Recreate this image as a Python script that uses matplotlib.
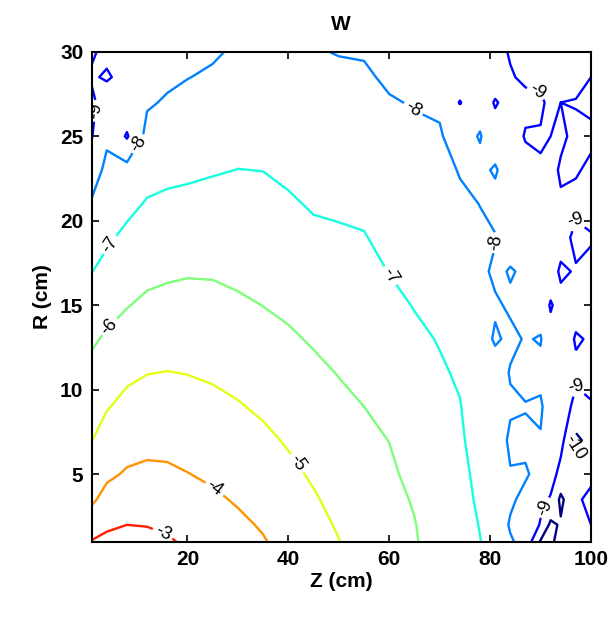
import numpy as np
import matplotlib
matplotlib.use("Agg")
import matplotlib.pyplot as plt

# ---- data (log10 field W on a grid) ----
z_nodes = [1, 4, 8, 12, 16, 20, 25, 30, 35, 40, 45, 50, 55, 60, 65, 70, 74, 78,
           81, 84, 87, 90, 92, 94, 97, 100]
r_nodes = [1, 2, 3.5, 5, 7, 9, 11, 13, 15, 17, 19, 21, 23, 25, 27, 28.5, 30]

# one list per Z column, values listed from R = 1 up to R = 30
w_columns = [
    [-2.95, -3.50, -4.15, -4.53, -5.02, -5.38, -5.75, -6.13, -6.57, -7.02, -7.45, -7.91, -8.44, -9.05, -9.20, -8.90, -9.10],
    [-2.78, -3.15, -3.70, -4.16, -4.61, -5.06, -5.47, -5.88, -6.30, -6.74, -7.13, -7.46, -7.79, -8.15, -8.50, -9.10, -8.80],
    [-2.70, -3.00, -3.45, -3.91, -4.35, -4.76, -5.17, -5.61, -6.04, -6.42, -6.81, -7.22, -7.67, -9.10, -8.30, -8.70, -8.80],
    [-2.76, -3.03, -3.42, -3.82, -4.25, -4.63, -5.02, -5.43, -5.84, -6.21, -6.57, -6.93, -7.31, -7.71, -8.10, -8.30, -8.40],
    [-2.90, -3.14, -3.50, -3.86, -4.25, -4.62, -4.98, -5.37, -5.75, -6.13, -6.48, -6.84, -7.20, -7.55, -7.91, -8.15, -8.30],
    [-3.12, -3.33, -3.66, -3.98, -4.33, -4.67, -5.02, -5.37, -5.72, -6.07, -6.44, -6.80, -7.14, -7.45, -7.77, -8.02, -8.20],
    [-3.39, -3.58, -3.87, -4.13, -4.46, -4.79, -5.11, -5.44, -5.76, -6.08, -6.41, -6.74, -7.06, -7.36, -7.67, -7.89, -8.10],
    [-3.67, -3.84, -4.08, -4.31, -4.63, -4.94, -5.25, -5.56, -5.88, -6.17, -6.44, -6.72, -6.99, -7.25, -7.50, -7.69, -7.88],
    [-3.94, -4.08, -4.30, -4.53, -4.83, -5.13, -5.43, -5.72, -6.01, -6.26, -6.51, -6.76, -7.01, -7.25, -7.50, -7.68, -7.86],
    [-4.29, -4.42, -4.62, -4.82, -5.08, -5.35, -5.62, -5.89, -6.15, -6.40, -6.65, -6.90, -7.15, -7.40, -7.65, -7.84, -7.95],
    [-4.64, -4.75, -4.92, -5.10, -5.34, -5.59, -5.83, -6.08, -6.33, -6.58, -6.83, -7.08, -7.30, -7.50, -7.70, -7.85, -7.95],
    [-4.98, -5.08, -5.24, -5.40, -5.61, -5.82, -6.03, -6.25, -6.47, -6.68, -6.90, -7.12, -7.32, -7.52, -7.72, -7.86, -8.03],
    [-5.31, -5.40, -5.53, -5.66, -5.83, -6.00, -6.19, -6.38, -6.58, -6.77, -6.96, -7.16, -7.36, -7.56, -7.76, -7.91, -8.05],
    [-5.63, -5.69, -5.79, -5.88, -6.01, -6.21, -6.41, -6.62, -6.82, -7.02, -7.21, -7.39, -7.58, -7.77, -7.95, -8.10, -8.20],
    [-5.94, -5.97, -6.06, -6.19, -6.36, -6.53, -6.69, -6.86, -7.03, -7.20, -7.37, -7.54, -7.71, -7.87, -8.04, -8.15, -8.10],
    [-6.33, -6.39, -6.48, -6.57, -6.68, -6.80, -6.92, -7.04, -7.19, -7.34, -7.49, -7.64, -7.79, -7.94, -8.09, -8.20, -8.15],
    [-6.67, -6.70, -6.75, -6.80, -6.90, -6.97, -7.08, -7.24, -7.40, -7.56, -7.72, -7.88, -8.04, -8.30, -9.05, -8.40, -8.30],
    [-6.98, -7.03, -7.12, -7.20, -7.30, -7.40, -7.50, -7.60, -7.70, -7.80, -7.90, -8.01, -8.20, -7.95, -8.30, -8.50, -8.40],
    [-7.30, -7.35, -7.40, -7.45, -7.50, -7.55, -7.60, -8.10, -7.90, -8.15, -7.95, -8.30, -7.90, -8.50, -9.10, -8.40, -8.60],
    [-7.90, -8.10, -7.85, -7.95, -8.15, -7.90, -8.05, -7.85, -8.10, -7.95, -8.30, -8.10, -8.50, -8.30, -8.60, -8.90, -9.10],
    [-8.30, -8.00, -8.25, -7.90, -8.20, -7.95, -8.30, -8.05, -8.40, -8.10, -8.30, -8.90, -8.50, -9.10, -8.70, -9.20, -9.00],
    [-10.10, -9.10, -8.70, -8.30, -8.05, -7.90, -8.20, -7.95, -8.35, -8.05, -8.60, -8.30, -8.90, -9.10, -8.80, -9.30, -9.05],
    [-10.30, -10.20, -9.10, -8.60, -8.20, -8.40, -8.10, -8.60, -9.10, -8.40, -8.20, -8.70, -8.50, -9.00, -9.30, -9.10, -9.40],
    [-9.40, -9.90, -10.20, -9.30, -8.70, -8.40, -8.90, -8.30, -8.60, -9.20, -8.50, -8.80, -9.20, -8.70, -9.00, -9.50, -9.20],
    [-9.00, -9.40, -9.20, -9.60, -10.20, -9.30, -8.80, -9.10, -8.60, -8.90, -9.30, -8.70, -9.10, -9.40, -8.90, -9.60, -9.30],
    [-9.20, -9.00, -8.70, -9.30, -9.70, -9.10, -8.60, -8.90, -8.40, -8.70, -9.10, -8.50, -8.80, -9.20, -8.80, -9.00, -9.10],
]
levels = [-10, -9, -8, -7, -6, -5, -4, -3]
x_ticks = [20, 40, 60, 80, 100]
y_ticks = [5, 10, 15, 20, 25, 30]

plt.rcParams['font.family'] = ['Liberation Sans', 'DejaVu Sans']

fig = plt.figure(figsize=(6.15, 6.17), dpi=100)
ax = fig.add_axes([0.149, 0.122, 0.812, 0.794])

Zg, Rg = np.meshgrid(np.array(z_nodes, float), np.array(r_nodes, float))
W = np.array(w_columns, float).T

cs = ax.contour(Zg, Rg, W, levels=levels, cmap='jet', vmin=-10, vmax=-2,
                linewidths=1.7)

# where the reference shows its inline labels
label_spots = [(15, 1.4), (25, 4.0), (42.5, 5.8), (5, 13.6), (5, 18.5),
               (59, 16.5), (10, 24.6), (64, 26.3), (84, 18.5), (2, 26.5),
               (90, 28.2), (99, 21), (98, 10.5), (96, 6.5), (91, 3.0)]
ax.clabel(cs, fmt='%d', colors='k', fontsize=13, inline=True,
          inline_spacing=3, manual=label_spots)

ax.set_xlim(1, 100)
ax.set_ylim(1, 30)
ax.set_xticks(x_ticks)
ax.set_yticks(y_ticks)
ax.tick_params(direction='in', length=5, width=1.2, top=True, right=True,
               labelsize=15, pad=6)
for lab in ax.get_xticklabels() + ax.get_yticklabels():
    lab.set_fontweight('bold')
for s in ax.spines.values():
    s.set_linewidth(1.5)

ax.set_xlabel('Z (cm)', fontsize=15, fontweight='bold', labelpad=2)
ax.set_ylabel('R (cm)', fontsize=15, fontweight='bold', labelpad=6)
ax.set_title('W', fontsize=15, fontweight='bold', pad=16)

fig.savefig('out.png', dpi=100, facecolor='white')
